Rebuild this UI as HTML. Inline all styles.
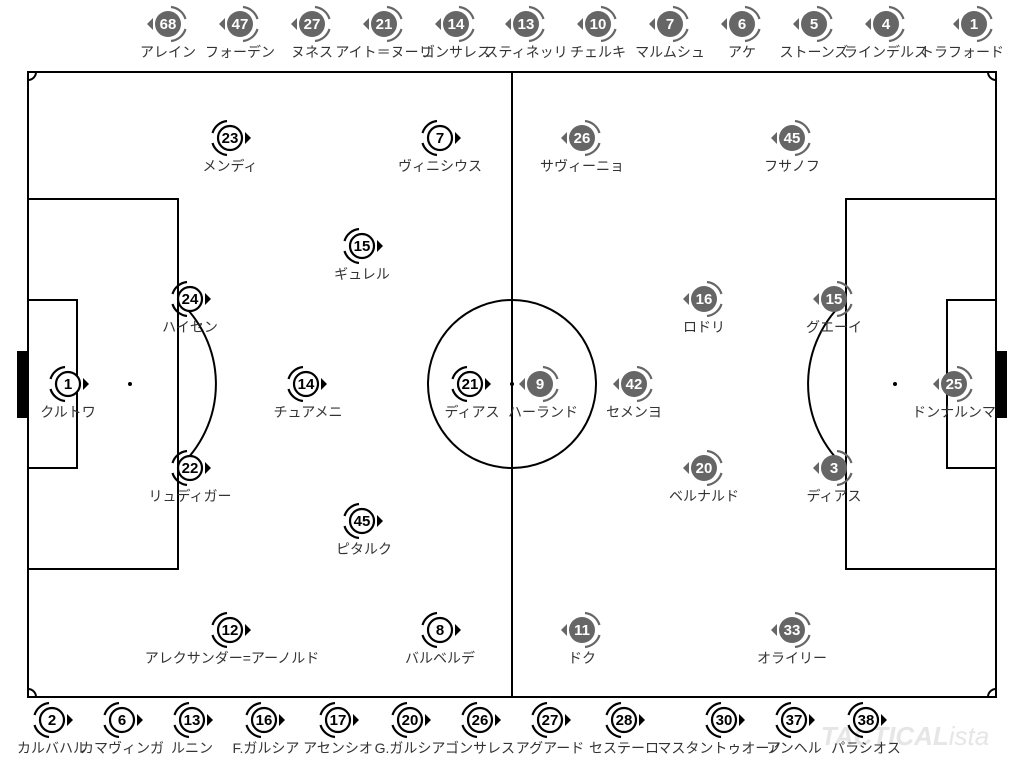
<!DOCTYPE html>
<html><head><meta charset="utf-8"><style>
html,body{margin:0;padding:0;background:#fff;}
svg{display:block;}
.n{font-family:"Liberation Sans Narrow","Liberation Sans",sans-serif;font-weight:bold;font-size:15px;text-anchor:middle;}
.l{font-family:"Liberation Sans","Noto Sans CJK JP",sans-serif;font-size:14px;fill:#333;text-anchor:middle;}
</style></head><body>
<svg width="1024" height="768" viewBox="0 0 1024 768" xmlns="http://www.w3.org/2000/svg">
<defs>
<g id="h">
<circle r="12" fill="#fff" stroke="#000" stroke-width="2.2"/>
<path d="M -3 -17 A 17 17 0 0 0 -17.5 -5 M -17.5 5 A 17 17 0 0 0 -3 17" fill="none" stroke="#000" stroke-width="2.2"/>
<polygon points="15,-6 15,6 21,0" fill="#000"/>
</g>
<g id="a">
<circle r="13" fill="#666"/>
<path d="M 3 -17 A 17 17 0 0 1 17.5 -5 M 17.5 5 A 17 17 0 0 1 3 17" fill="none" stroke="#666" stroke-width="2.2"/>
<polygon points="-15,-6 -15,6 -21,0" fill="#666"/>
</g>
</defs>
<g fill="none" stroke="#000" stroke-width="2">
<rect x="28" y="72" width="968" height="625"/>
<line x1="512" y1="72" x2="512" y2="697"/>
<circle cx="512" cy="384" r="84"/>
<rect x="28" y="199" width="150" height="370"/>
<rect x="28" y="300" width="49" height="168"/>
<rect x="846" y="199" width="150" height="370"/>
<rect x="947" y="300" width="49" height="168"/>
<path d="M 178 300 A 112 112 0 0 1 178 468"/>
<path d="M 846 300 A 112 112 0 0 0 846 468"/>
<path d="M 28 80 A 8 8 0 0 0 36 72 M 988 72 A 8 8 0 0 0 996 80 M 28 689 A 8 8 0 0 1 36 697 M 988 697 A 8 8 0 0 1 996 689"/>
</g>
<rect x="17" y="351" width="11" height="67" fill="#000"/>
<rect x="996" y="351" width="11" height="67" fill="#000"/>
<circle cx="512" cy="384" r="2" fill="#000"/>
<circle cx="130" cy="384" r="2" fill="#000"/>
<circle cx="895" cy="384" r="2" fill="#000"/>
<text x="905" y="745" font-family="Liberation Sans" font-weight="bold" font-style="italic" font-size="26" fill="#e6e6e6" text-anchor="middle">TACTICAL<tspan font-weight="normal">ista</tspan></text>

<!-- home -->
<g transform="translate(68,384)"><use href="#h"/><text class="n" y="5">1</text></g><text class="l" x="68" y="417">クルトワ</text>
<g transform="translate(190,299)"><use href="#h"/><text class="n" y="5">24</text></g><text class="l" x="190" y="332">ハイセン</text>
<g transform="translate(190,468)"><use href="#h"/><text class="n" y="5">22</text></g><text class="l" x="190" y="501">リュディガー</text>
<g transform="translate(230,138)"><use href="#h"/><text class="n" y="5">23</text></g><text class="l" x="230" y="171">メンディ</text>
<g transform="translate(230,630)"><use href="#h"/><text class="n" y="5">12</text></g><text class="l" x="232" y="663">アレクサンダー=アーノルド</text>
<g transform="translate(362,246)"><use href="#h"/><text class="n" y="5">15</text></g><text class="l" x="362" y="279">ギュレル</text>
<g transform="translate(306,384)"><use href="#h"/><text class="n" y="5">14</text></g><text class="l" x="308" y="417">チュアメニ</text>
<g transform="translate(362,521)"><use href="#h"/><text class="n" y="5">45</text></g><text class="l" x="364" y="554">ピタルク</text>
<g transform="translate(440,138)"><use href="#h"/><text class="n" y="5">7</text></g><text class="l" x="440" y="171">ヴィニシウス</text>
<g transform="translate(470,384)"><use href="#h"/><text class="n" y="5">21</text></g><text class="l" x="472" y="417">ディアス</text>
<g transform="translate(440,630)"><use href="#h"/><text class="n" y="5">8</text></g><text class="l" x="440" y="663">バルベルデ</text>

<!-- away -->
<g transform="translate(582,138)"><use href="#a"/><text class="n" y="5" fill="#fff">26</text></g><text class="l" x="582" y="171">サヴィーニョ</text>
<g transform="translate(792,138)"><use href="#a"/><text class="n" y="5" fill="#fff">45</text></g><text class="l" x="792" y="171">フサノフ</text>
<g transform="translate(704,299)"><use href="#a"/><text class="n" y="5" fill="#fff">16</text></g><text class="l" x="704" y="332">ロドリ</text>
<g transform="translate(834,299)"><use href="#a"/><text class="n" y="5" fill="#fff">15</text></g><text class="l" x="834" y="332">グエーイ</text>
<g transform="translate(540,384)"><use href="#a"/><text class="n" y="5" fill="#fff">9</text></g><text class="l" x="543" y="417">ハーランド</text>
<g transform="translate(634,384)"><use href="#a"/><text class="n" y="5" fill="#fff">42</text></g><text class="l" x="634" y="417">セメンヨ</text>
<g transform="translate(954,384)"><use href="#a"/><text class="n" y="5" fill="#fff">25</text></g><text class="l" x="954" y="417">ドンナルンマ</text>
<g transform="translate(704,468)"><use href="#a"/><text class="n" y="5" fill="#fff">20</text></g><text class="l" x="704" y="501">ベルナルド</text>
<g transform="translate(834,468)"><use href="#a"/><text class="n" y="5" fill="#fff">3</text></g><text class="l" x="834" y="501">ディアス</text>
<g transform="translate(582,630)"><use href="#a"/><text class="n" y="5" fill="#fff">11</text></g><text class="l" x="582" y="663">ドク</text>
<g transform="translate(792,630)"><use href="#a"/><text class="n" y="5" fill="#fff">33</text></g><text class="l" x="792" y="663">オライリー</text>

<!-- away bench -->
<g transform="translate(168,24)"><use href="#a"/><text class="n" y="5" fill="#fff">68</text></g><text class="l" x="168" y="57">アレイン</text>
<g transform="translate(240,24)"><use href="#a"/><text class="n" y="5" fill="#fff">47</text></g><text class="l" x="240" y="57">フォーデン</text>
<g transform="translate(312,24)"><use href="#a"/><text class="n" y="5" fill="#fff">27</text></g><text class="l" x="312" y="57">ヌネス</text>
<g transform="translate(384,24)"><use href="#a"/><text class="n" y="5" fill="#fff">21</text></g><text class="l" x="384" y="57">アイト＝ヌーリ</text>
<g transform="translate(456,24)"><use href="#a"/><text class="n" y="5" fill="#fff">14</text></g><text class="l" x="456" y="57">ゴンサレス</text>
<g transform="translate(526,24)"><use href="#a"/><text class="n" y="5" fill="#fff">13</text></g><text class="l" x="526" y="57">スティネッリ</text>
<g transform="translate(598,24)"><use href="#a"/><text class="n" y="5" fill="#fff">10</text></g><text class="l" x="598" y="57">チェルキ</text>
<g transform="translate(670,24)"><use href="#a"/><text class="n" y="5" fill="#fff">7</text></g><text class="l" x="670" y="57">マルムシュ</text>
<g transform="translate(742,24)"><use href="#a"/><text class="n" y="5" fill="#fff">6</text></g><text class="l" x="742" y="57">アケ</text>
<g transform="translate(814,24)"><use href="#a"/><text class="n" y="5" fill="#fff">5</text></g><text class="l" x="814" y="57">ストーンズ</text>
<g transform="translate(886,24)"><use href="#a"/><text class="n" y="5" fill="#fff">4</text></g><text class="l" x="886" y="57">ラインデルス</text>
<g transform="translate(974,24)"><use href="#a"/><text class="n" y="5" fill="#fff">1</text></g><text class="l" x="962" y="57">トラフォード</text>

<!-- home bench -->
<g transform="translate(52,720)"><use href="#h"/><text class="n" y="5">2</text></g><text class="l" x="52" y="753">カルバハル</text>
<g transform="translate(122,720)"><use href="#h"/><text class="n" y="5">6</text></g><text class="l" x="122" y="753">カマヴィンガ</text>
<g transform="translate(192,720)"><use href="#h"/><text class="n" y="5">13</text></g><text class="l" x="192" y="753">ルニン</text>
<g transform="translate(264,720)"><use href="#h"/><text class="n" y="5">16</text></g><text class="l" x="266" y="753">F.ガルシア</text>
<g transform="translate(338,720)"><use href="#h"/><text class="n" y="5">17</text></g><text class="l" x="338" y="753">アセンシオ</text>
<g transform="translate(410,720)"><use href="#h"/><text class="n" y="5">20</text></g><text class="l" x="410" y="753">G.ガルシア</text>
<g transform="translate(480,720)"><use href="#h"/><text class="n" y="5">26</text></g><text class="l" x="480" y="753">ゴンサレス</text>
<g transform="translate(550,720)"><use href="#h"/><text class="n" y="5">27</text></g><text class="l" x="550" y="753">アグアード</text>
<g transform="translate(624,720)"><use href="#h"/><text class="n" y="5">28</text></g><text class="l" x="624" y="753">セステーロ</text>
<g transform="translate(724,720)"><use href="#h"/><text class="n" y="5">30</text></g><text class="l" x="720" y="753">マスタントゥオーノ</text>
<g transform="translate(794,720)"><use href="#h"/><text class="n" y="5">37</text></g><text class="l" x="794" y="753">アンヘル</text>
<g transform="translate(866,720)"><use href="#h"/><text class="n" y="5">38</text></g><text class="l" x="866" y="753">パラシオス</text>
</svg>
</body></html>
